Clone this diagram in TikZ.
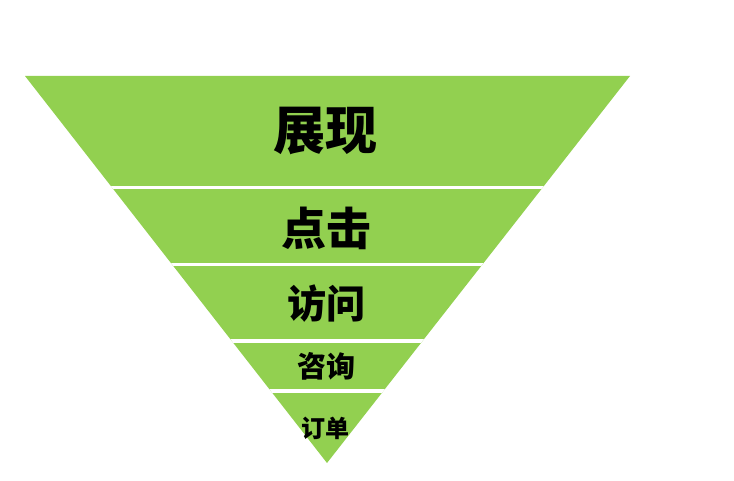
\documentclass[tikz,border=0pt]{standalone}
\usepackage{fontspec}
\newfontfamily\cjk{Noto Sans CJK SC}
\definecolor{funnelgreen}{HTML}{92D050}
\begin{document}
\begin{tikzpicture}[x=1pt,y=-1pt,
  lbl/.style={font=\cjk\bfseries, text=black, inner sep=0pt, anchor=center},
  sep/.style={draw=white, line width=3.5pt}]
\useasboundingbox (0,0) rectangle (734,481);
\coordinate (tl) at (25,76);
\coordinate (tr) at (630,76);
\coordinate (ap) at (327,463);
\fill[funnelgreen] (tl) -- (tr) -- (ap) -- cycle;
\begin{scope}
  \clip (tl) -- (tr) -- (ap) -- cycle;
  \coordinate (s1l) at (0,187.5); \coordinate (s1r) at (734,187.5);
  \coordinate (s2l) at (0,264.5); \coordinate (s2r) at (734,264.5);
  \coordinate (s3l) at (0,341);   \coordinate (s3r) at (734,341);
  \coordinate (s4l) at (0,391);   \coordinate (s4r) at (734,391);
  \draw[sep] (s1l) -- (s1r);
  \draw[sep] (s2l) -- (s2r);
  \draw[sep] (s3l) -- (s3r);
  \draw[sep] (s4l) -- (s4r);
\end{scope}
\node[lbl, font=\cjk\bfseries\fontsize{52}{56}\selectfont] (t1) at (325,131) {展现};
\node[lbl, font=\cjk\bfseries\fontsize{45}{50}\selectfont] (t2) at (326,228) {点击};
\node[lbl, font=\cjk\bfseries\fontsize{39}{44}\selectfont] (t3) at (326,304) {访问};
\node[lbl, font=\cjk\bfseries\fontsize{29}{33}\selectfont] (t4) at (326,366) {咨询};
\node[lbl, font=\cjk\bfseries\fontsize{24}{28}\selectfont] (t5) at (325,428) {订单};
\end{tikzpicture}
\end{document}
